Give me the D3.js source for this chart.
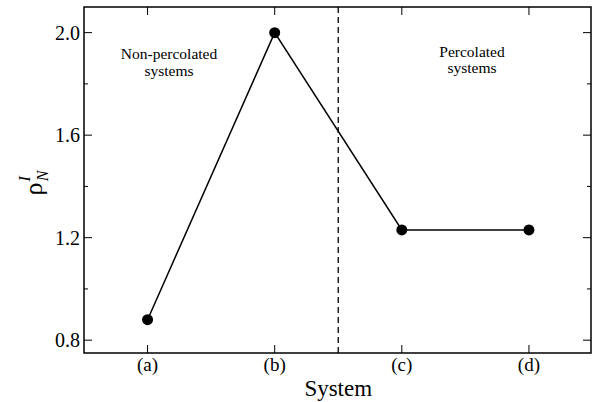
<!DOCTYPE html>
<html><head><meta charset="utf-8">
<script src="https://cdn.jsdelivr.net/npm/d3@7"></script>
<style>body{margin:0;background:#fff}svg{display:block}</style>
</head><body><svg id="c" width="592" height="402" font-family="'Liberation Serif', 'DejaVu Serif', serif"></svg>
<script>
const categories = ["(a)","(b)","(c)","(d)"];
const values = [0.88, 2.0, 1.23, 1.23];
const yTicks = [0.8, 1.2, 1.6, 2.0];
const yMinor = [1.0, 1.4, 1.8];
const dividerAt = 2.5;

const svg = d3.select("#c");
const L=84, R=591, T=7, B=353;
const x = d3.scaleLinear().domain([0.5,4.5]).range([L,R+1.5]);
const y = d3.scaleLinear().domain([0.75,2.1]).range([B,T]);
const xi = i=>x(i+1);

svg.append("rect").attr("x",L).attr("y",T).attr("width",R-L).attr("height",B-T)
  .attr("fill","none").attr("stroke","#000").attr("stroke-width",1.5);

const g = svg.append("g").attr("stroke","#000").attr("stroke-width",1);
yTicks.forEach(v=>{
  g.append("line").attr("x1",L).attr("x2",L+8).attr("y1",y(v)).attr("y2",y(v));
  g.append("line").attr("x1",R).attr("x2",R-8).attr("y1",y(v)).attr("y2",y(v));
});
yMinor.forEach(v=>{
  g.append("line").attr("x1",L).attr("x2",L+4).attr("y1",y(v)).attr("y2",y(v));
  g.append("line").attr("x1",R).attr("x2",R-4).attr("y1",y(v)).attr("y2",y(v));
});
categories.forEach((c,i)=>{
  g.append("line").attr("x1",xi(i)).attr("x2",xi(i)).attr("y1",B).attr("y2",B-8);
  g.append("line").attr("x1",xi(i)).attr("x2",xi(i)).attr("y1",T).attr("y2",T+8);
});

yTicks.forEach(v=>{
  svg.append("text").attr("x",L-4).attr("y",y(v)).attr("dy","0.35em")
    .attr("text-anchor","end").attr("font-size",20).text(d3.format(".1f")(v));
});
categories.forEach((c,i)=>{
  svg.append("text").attr("x",xi(i)).attr("y",371).attr("text-anchor","middle")
    .attr("font-size",19).text(c);
});
svg.append("text").attr("x",x(dividerAt)).attr("y",396).attr("text-anchor","middle")
  .attr("font-size",23).text("System");

const yl = svg.append("text").attr("transform","translate(42,183) rotate(-90)")
  .attr("text-anchor","middle").attr("font-size",26);
yl.append("tspan").text("ρ");
yl.append("tspan").attr("font-size",16).attr("font-style","italic").attr("dy",-12).attr("dx",1).text("I");
yl.append("tspan").attr("font-size",16).attr("font-style","italic").attr("dy",18).attr("dx",-5).text("N");

svg.append("line").attr("x1",x(dividerAt)).attr("x2",x(dividerAt)).attr("y1",T).attr("y2",B)
  .attr("stroke","#000").attr("stroke-width",1.3).attr("stroke-dasharray","6,4");

const line = d3.line().x((d,i)=>xi(i)).y(d=>y(d));
svg.append("path").attr("d",line(values)).attr("fill","none").attr("stroke","#000").attr("stroke-width",1.5);
svg.selectAll("circle.p").data(values).enter().append("circle")
  .attr("cx",(d,i)=>xi(i)).attr("cy",d=>y(d)).attr("r",5.5).attr("fill","#000");

const ann = [["Non-percolated",169,59],["systems",169,76],["Percolated",472,57],["systems",472,73]];
ann.forEach(a=>svg.append("text").attr("x",a[1]).attr("y",a[2]).attr("text-anchor","middle").attr("font-size",15.5).text(a[0]));
</script></body></html>
